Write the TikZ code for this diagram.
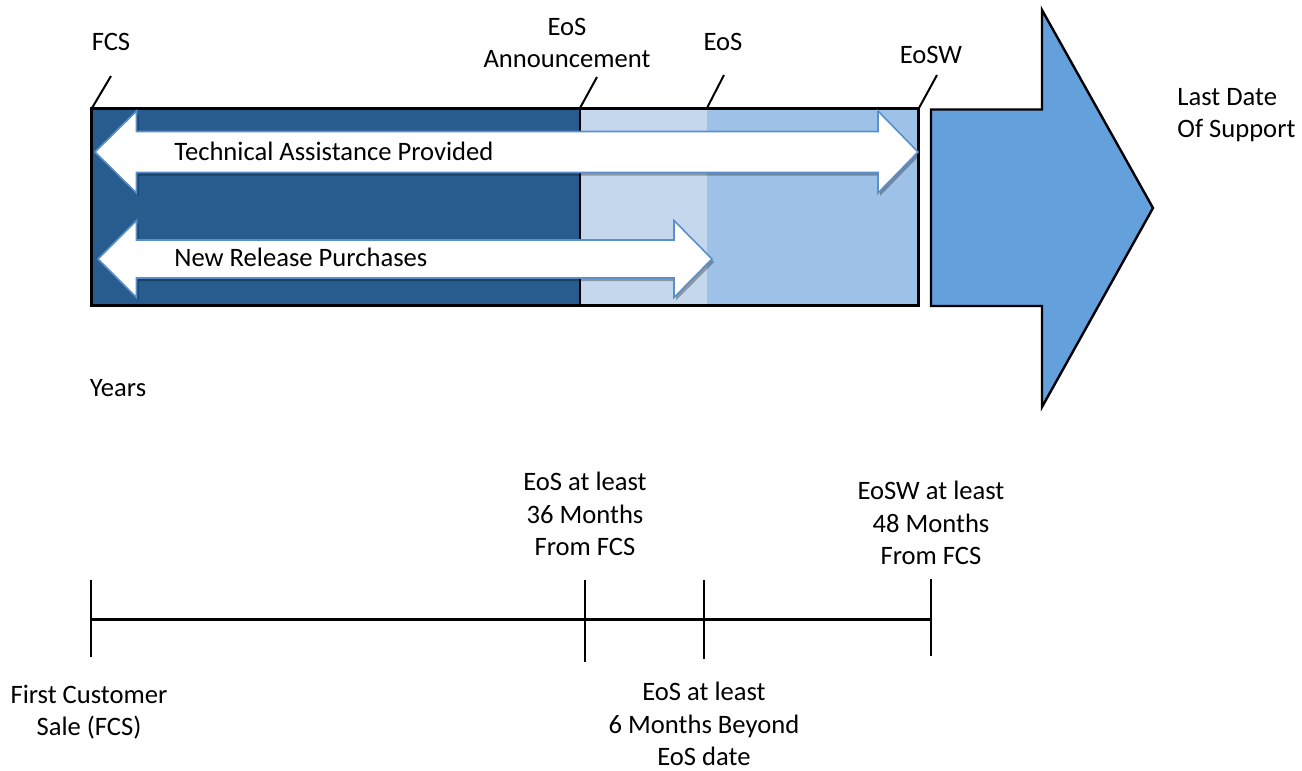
\documentclass[tikz,border=0pt]{standalone}
\usepackage{fontspec}
\setmainfont{Carlito}
\usetikzlibrary{shadows}
\definecolor{darkseg}{HTML}{285C8E}
\definecolor{lightseg}{HTML}{C5D7EC}
\definecolor{midseg}{HTML}{9EC1E7}
\definecolor{bigarrow}{HTML}{64A0DC}
\definecolor{arrowline}{HTML}{5B8FCB}
\tikzset{
  lbl/.style={font=\fontsize{13.3}{16.2}\selectfont, inner sep=0pt, align=center},
  tickline/.style={draw=black, line width=1pt},
  barborder/.style={draw=black, line width=1.5pt},
  whitearrow/.style={fill=white, draw=arrowline, line width=0.8pt,
    drop shadow={shadow xshift=1pt, shadow yshift=-1.5pt, opacity=0.3, fill=black}},
  timeline/.style={draw=black, line width=1.5pt},
  timetick/.style={draw=black, line width=1pt}
}
\begin{document}
\begin{tikzpicture}[x=0.5pt, y=-0.5pt]
\path[use as bounding box] (0,0) rectangle (1302,771);

% bar segments
\fill[darkseg] (91,108) rectangle (580,305);
\fill[lightseg] (580,108) rectangle (707,305);
\fill[midseg] (707,108) rectangle (918,305);
\draw[line width=1.2pt] (580,108) -- (580,305);
\draw[barborder] (91,108) rectangle (918,305);

% white double arrows
\path[whitearrow] (95,152) -- (136.5,111) -- (136.5,131.5) -- (878,131.5) -- (878,111)
  -- (918,152) -- (878,193) -- (878,172.5) -- (136.5,172.5) -- (136.5,193) -- cycle;
\path[whitearrow] (98,259) -- (136.5,220.5) -- (136.5,240) -- (674,240) -- (674,220.5)
  -- (712,259) -- (674,297.5) -- (674,278) -- (136.5,278) -- (136.5,297.5) -- cycle;
\node[lbl, anchor=west] (tap) at (174,151) {Technical Assistance Provided};
\node[lbl, anchor=west] (nrp) at (174,257) {New Release Purchases};

% big arrow
\draw[fill=bigarrow, draw=black, line width=1.2pt] (931,109.5) -- (1042,109.5) -- (1042,10)
  -- (1153,208) -- (1042,407) -- (1042,306) -- (931,306) -- cycle;
\node[lbl, anchor=west, align=left] (lds) at (1177,115) {Last Date\\Of Support};

% top labels and ticks
\node[lbl] (fcs) at (111,42) {FCS};
\node[lbl] (eosa) at (567,43) {EoS\\Announcement};
\node[lbl] (eos) at (723,42) {EoS};
\node[lbl] (eosw) at (931,55) {EoSW};
\coordinate (t1a) at (92,108); \coordinate (t1b) at (111,76);
\coordinate (t2a) at (580,108); \coordinate (t2b) at (597,77);
\coordinate (t3a) at (707,108); \coordinate (t3b) at (724,75);
\coordinate (t4a) at (919,108); \coordinate (t4b) at (937,75);
\draw[tickline] (t1a) -- (t1b);
\draw[tickline] (t2a) -- (t2b);
\draw[tickline] (t3a) -- (t3b);
\draw[tickline] (t4a) -- (t4b);

\node[lbl] (years) at (118,388) {Years};

% timeline
\coordinate (l0) at (91,619);
\coordinate (l1) at (585,619);
\coordinate (l2) at (704,619);
\coordinate (l3) at (931,619);
\draw[timeline] (l0) -- (l3);
\draw[timetick] (91,580) -- (91,657);
\draw[timetick] (585,580) -- (585,662);
\draw[timetick] (704,580) -- (704,659);
\draw[timetick] (931,579) -- (931,656);

\node[lbl] (b1) at (585,514) {EoS at least\\36 Months\\From FCS};
\node[lbl] (b2) at (931,523) {EoSW at least\\48 Months\\From FCS};
\node[lbl] (b3) at (89,712) {First Customer\\Sale (FCS)};
\node[lbl] (b4) at (704,724) {EoS at least\\6 Months Beyond\\EoS date};
\end{tikzpicture}
\end{document}
